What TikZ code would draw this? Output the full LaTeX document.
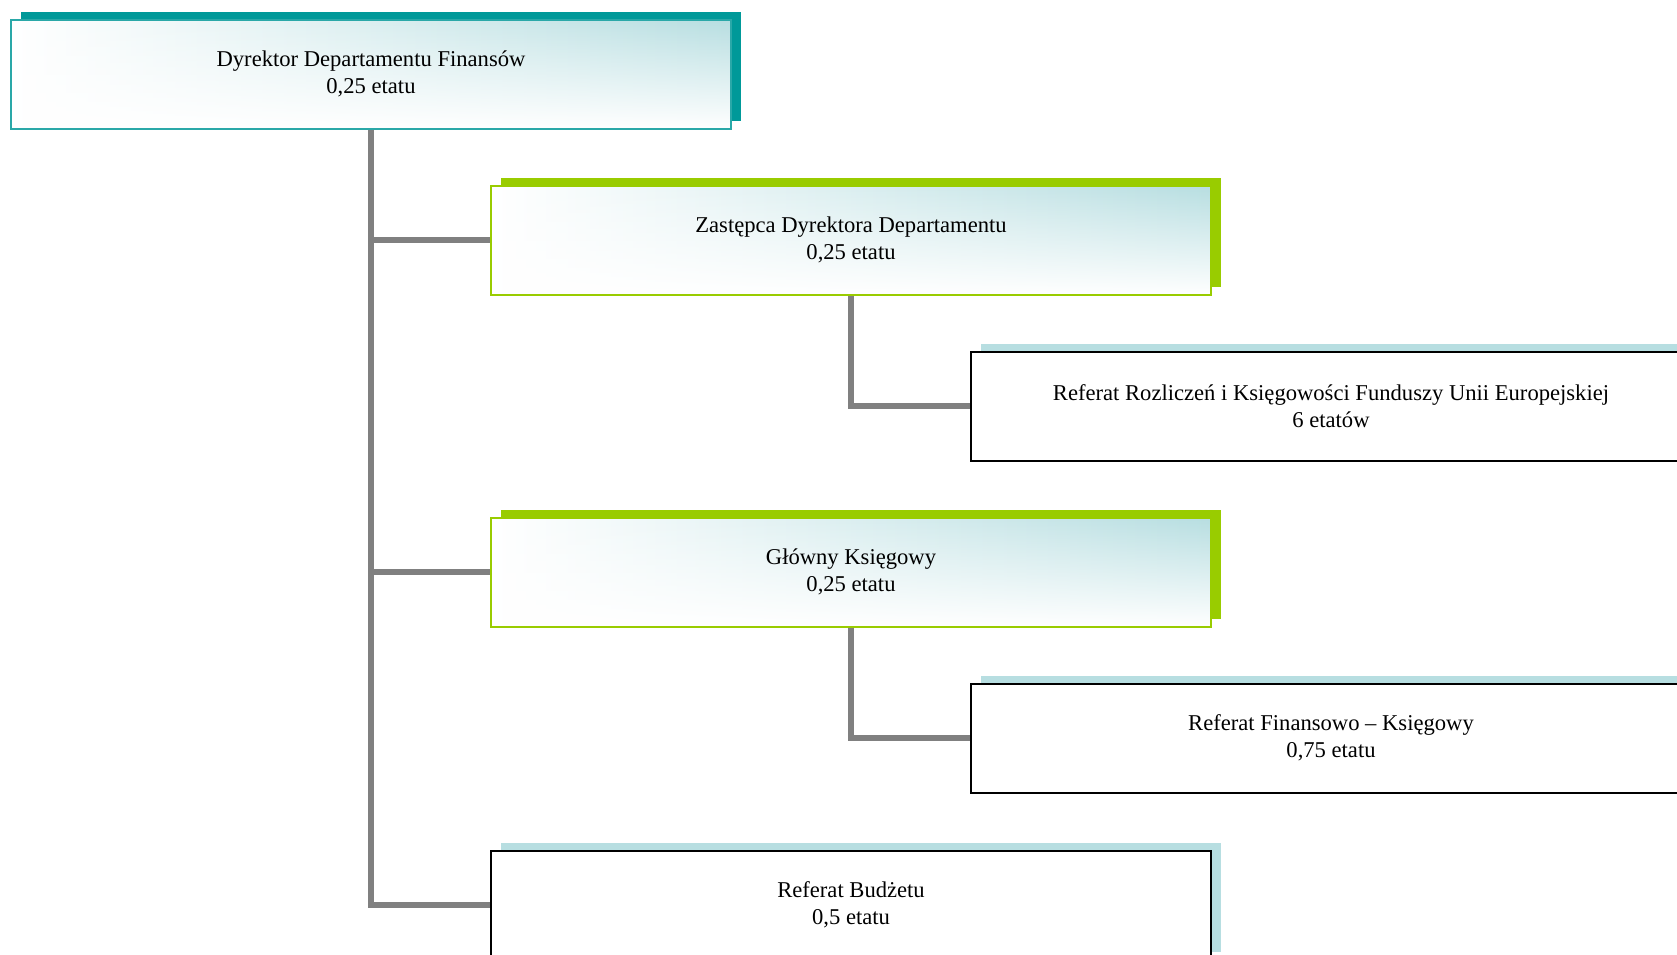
\documentclass[tikz,border=0pt]{standalone}
\usepackage{fontspec}
\setmainfont{Liberation Serif}
\usetikzlibrary{shadows}
\usetikzlibrary{fadings}
\definecolor{tealdark}{HTML}{009999}
\definecolor{tealline}{HTML}{2AA8A8}
\definecolor{limegreen}{HTML}{99CC00}
\definecolor{paleblue}{HTML}{B7DEE1}
\definecolor{linkgray}{HTML}{808080}
\tikzfading[name=fade bottom, top color=transparent!100,
            middle color=transparent!100, bottom color=transparent!0]
\tikzset{box/.style = {rectangle, line width = 2pt, minimum width = 720pt,
                       minimum height = 109pt, inner sep = 0, align = center,
                       font = \fontsize{22.6}{26.7}\selectfont}}
\tikzset{shadebox/.style 2 args = {box, draw = #1, left color = white, right color = paleblue,
                       drop shadow = {shadow xshift = 10pt, shadow yshift = 8pt,
                                      fill = #2, opacity = 1},
                       path picture = {\fill [white, path fading = fade bottom]
                         (path picture bounding box.south west) rectangle
                         (path picture bounding box.north east);}}}
\tikzset{plainbox/.style = {box, draw = black, fill = white,
                       drop shadow = {shadow xshift = 10pt, shadow yshift = 8pt,
                                      fill = paleblue, opacity = 1}}}
\tikzset{link/.style = {draw = linkgray, line width = 6pt}}

\begin{document}
\begin{tikzpicture}[x = 1pt, y = -1pt]
      \clip (0, 0) rectangle (1677, 954);

      \node [shadebox = {tealline}{tealdark}] (dyr) at (371, 74)
            {Dyrektor Departamentu Finansów\\0,25 etatu};
      \node [shadebox = {limegreen}{limegreen}] (zast) at (851, 240)
            {Zastępca Dyrektora Departamentu\\0,25 etatu};
      \node [plainbox] (refue) at (1331, 406)
            {Referat Rozliczeń i Księgowości Funduszy Unii Europejskiej\\6 etatów};
      \node [shadebox = {limegreen}{limegreen}] (glow) at (851, 572)
            {Główny Księgowy\\0,25 etatu};
      \node [plainbox] (reffk) at (1331, 738)
            {Referat Finansowo – Księgowy\\0,75 etatu};
      \node [plainbox] (refbud) at (851, 905)
            {Referat Budżetu\\0,5 etatu};

      \draw [link] (dyr.south) |- (zast.west);
      \draw [link] (dyr.south) |- (glow.west);
      \draw [link] (dyr.south) |- (refbud.west);
      \draw [link] (zast.south) |- (refue.west);
      \draw [link] (glow.south) |- (reffk.west);
\end{tikzpicture}
\end{document}
